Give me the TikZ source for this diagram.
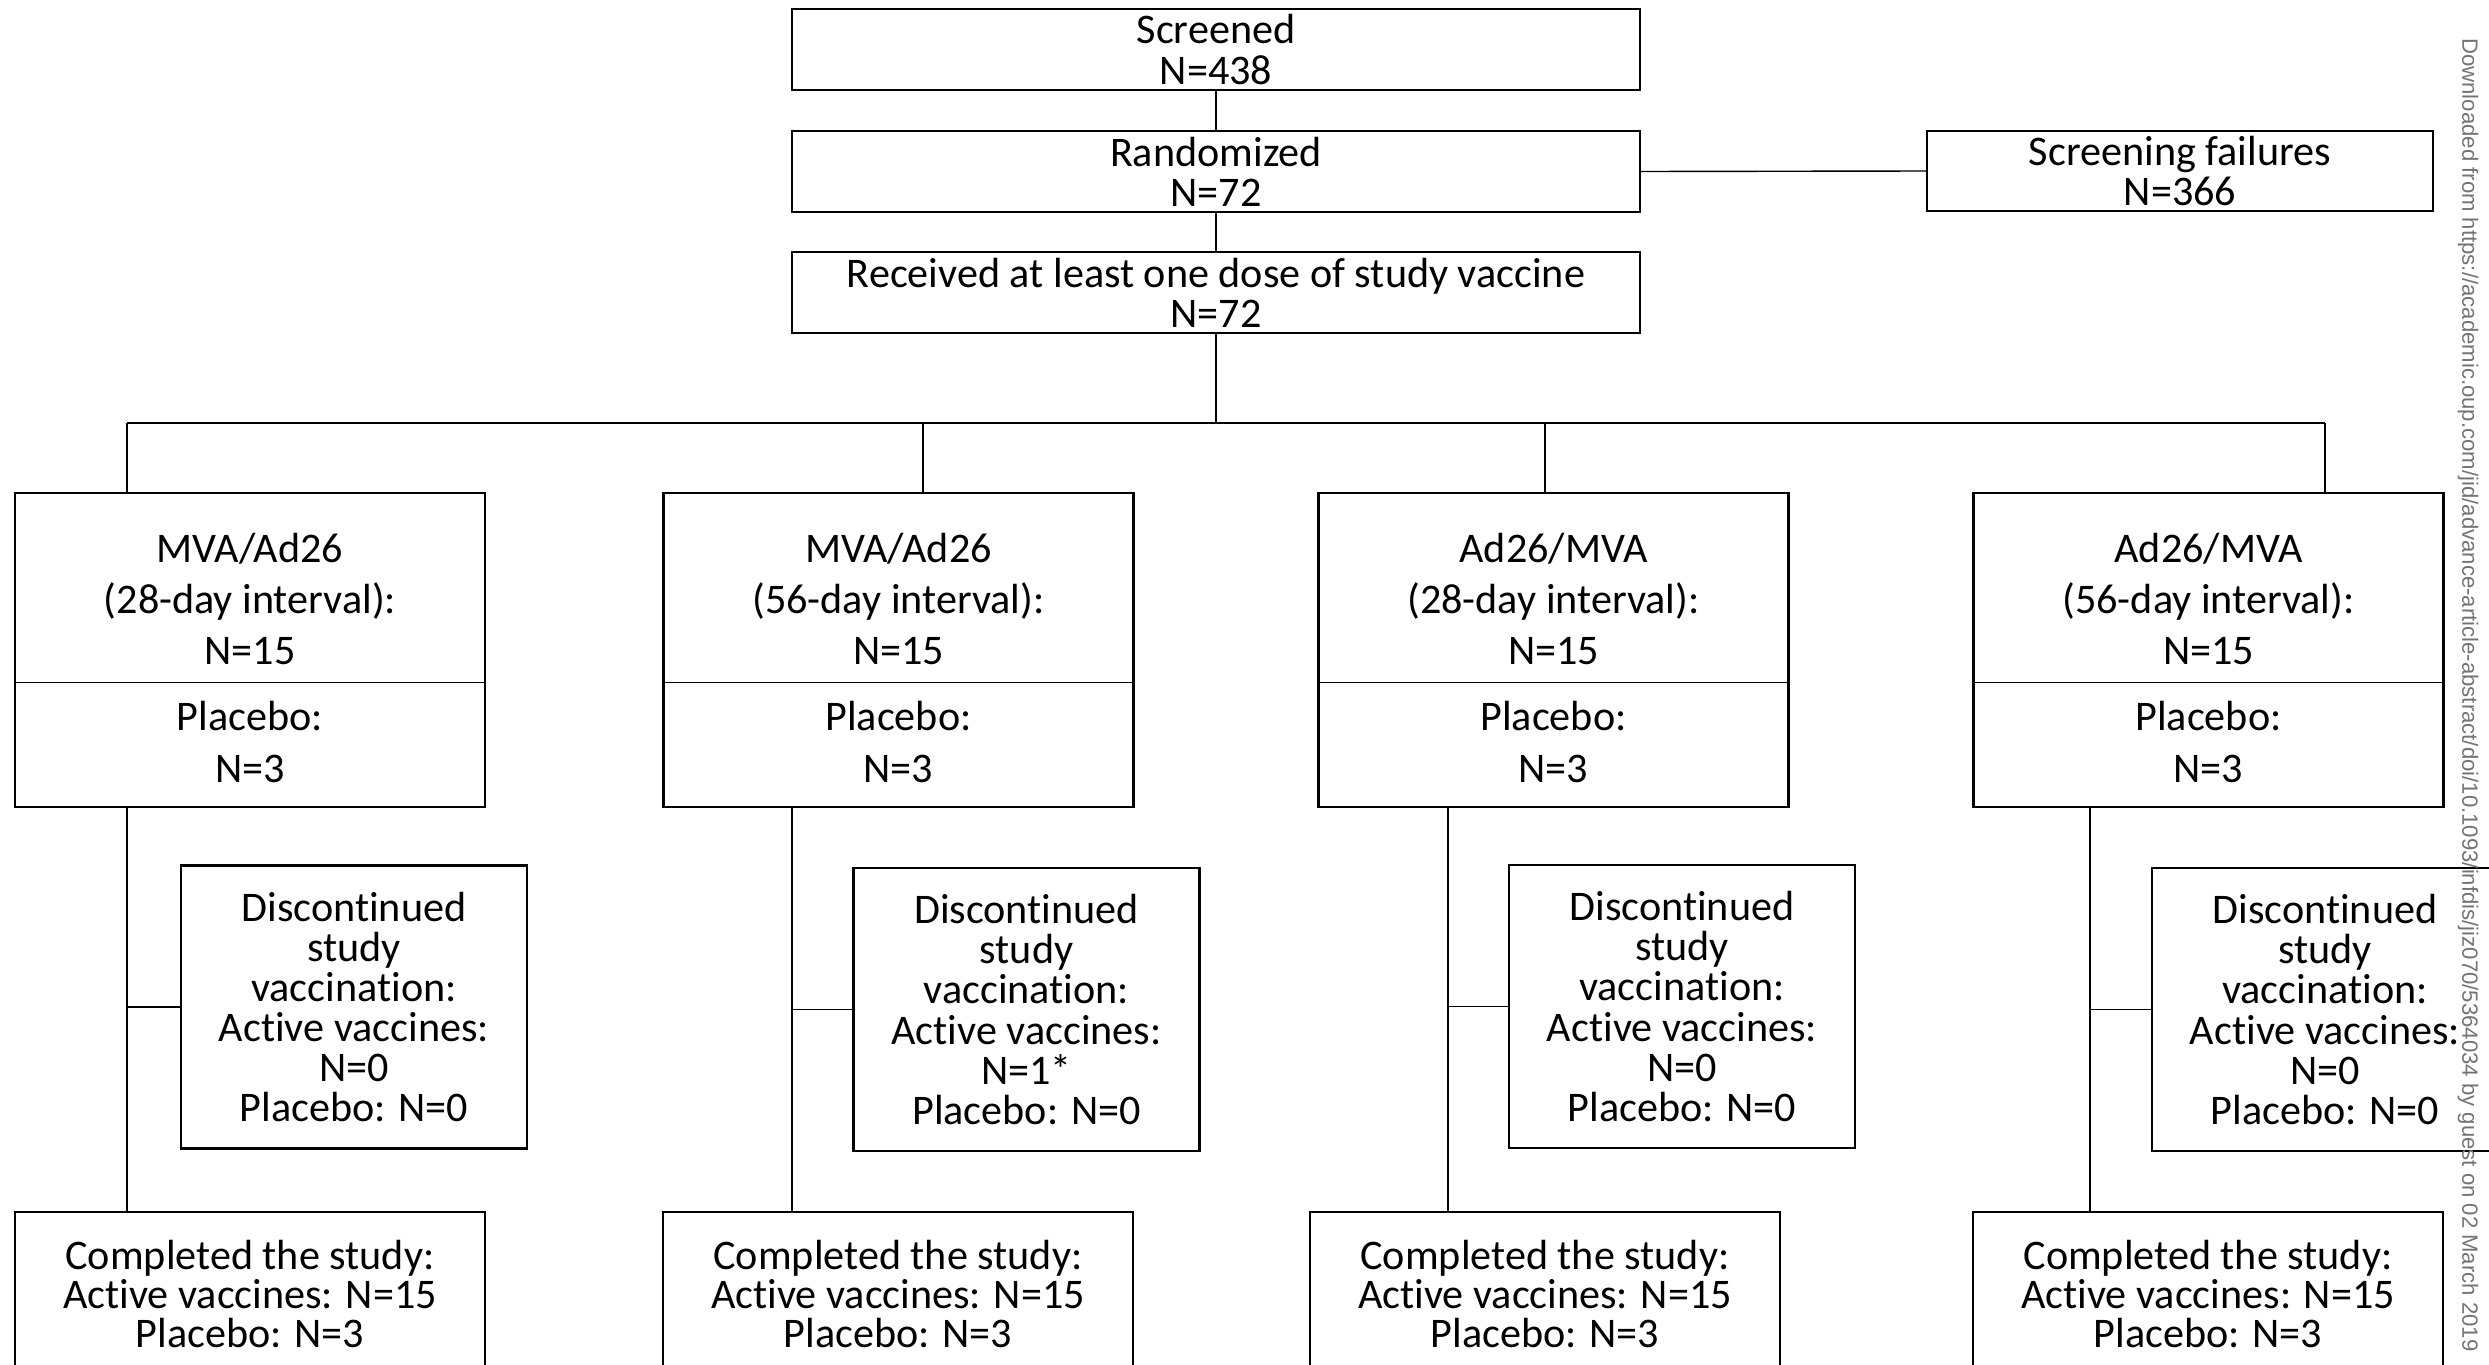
\documentclass[tikz,border=0pt]{standalone}
\usepackage{fontspec}
\setmainfont{Carlito}[Ligatures=NoCommon]
\newfontfamily\wmfont{Liberation Sans}
\usetikzlibrary{calc}
\tikzset{
	box/.style={draw, line width=0.7pt, inner sep=0pt, align=center},
	topbox/.style={box, minimum width=84.8mm, minimum height=8.1mm, font=\fontsize{12}{11.4}\selectfont},
	armbox/.style={draw, line width=0.7pt, minimum width=47mm, minimum height=31.4mm},
	armtext/.style={inner sep=0pt, align=center, font=\fontsize{12}{14.6}\selectfont},
	discbox/.style={box, minimum width=34.6mm, minimum height=28.3mm, font=\fontsize{12}{11.4}\selectfont},
	complbox/.style={box, minimum width=47mm, minimum height=16.4mm, font=\fontsize{12}{11.2}\selectfont},
	link/.style={line width=0.4pt},
	wm/.style={inner sep=0pt, rotate=-90, text=black!55, font=\wmfont\fontsize{6.3}{7}\selectfont}
}
\begin{document}
\begin{tikzpicture}[x=0.1mm, y=-0.1mm]
		\path[use as bounding box] (0,0) rectangle (2489,1364);
		\clip (0,0) rectangle (2489,1364);
		%screening and randomization
		\node[topbox] (screened) at (1216,49.5) {Screened\\N=438};
		\node[topbox] (randomized) at (1216,171.5) {Randomized\\N=72};
		\node[topbox] (received) at (1216,292.5) {Received at least one dose of study vaccine\\N=72};
		\node[box, minimum width=50.6mm, minimum height=8.0mm, font=\fontsize{12}{11.4}\selectfont] (failures) at (2180,171) {Screening failures\\N=366};
		\draw[link] (screened.south) -- (randomized.north);
		\draw[link] (randomized.south) -- (received.north);
		\draw[link] (randomized.east) -- (failures.west);
		%arms
		\node[armbox] (arm1) at (250,650) {};
		\node[armbox] (arm2) at (898.5,650) {};
		\node[armbox] (arm3) at (1553.5,650) {};
		\node[armbox] (arm4) at (2208.5,650) {};
		\draw[link] ($(arm1.north west)!0.602!(arm1.south west)$) -- ($(arm1.north east)!0.602!(arm1.south east)$);
		\draw[link] ($(arm2.north west)!0.602!(arm2.south west)$) -- ($(arm2.north east)!0.602!(arm2.south east)$);
		\draw[link] ($(arm3.north west)!0.602!(arm3.south west)$) -- ($(arm3.north east)!0.602!(arm3.south east)$);
		\draw[link] ($(arm4.north west)!0.602!(arm4.south west)$) -- ($(arm4.north east)!0.602!(arm4.south east)$);
		\node[armtext] (arm1top) at (250,599) {MVA/Ad26\\(28-day interval):\\N=15};
		\node[armtext] (arm1bot) at (250,742) {Placebo:\\N=3};
		\node[armtext] (arm2top) at (898.5,599) {MVA/Ad26\\(56-day interval):\\N=15};
		\node[armtext] (arm2bot) at (898.5,742) {Placebo:\\N=3};
		\node[armtext] (arm3top) at (1553.5,599) {Ad26/MVA\\(28-day interval):\\N=15};
		\node[armtext] (arm3bot) at (1553.5,742) {Placebo:\\N=3};
		\node[armtext] (arm4top) at (2208.5,599) {Ad26/MVA\\(56-day interval):\\N=15};
		\node[armtext] (arm4bot) at (2208.5,742) {Placebo:\\N=3};
		%bus from received to the arms
		\coordinate (bus1) at (127,423);
		\coordinate (bus2) at (923,423);
		\coordinate (bus3) at (1545,423);
		\coordinate (bus4) at (2325,423);
		\draw[link] (received.south) -- (received.south |- bus1);
		\draw[link] (bus1) -- (bus4);
		\draw[link] (bus1) -- (bus1 |- arm1.north);
		\draw[link] (bus2) -- (bus2 |- arm2.north);
		\draw[link] (bus3) -- (bus3 |- arm3.north);
		\draw[link] (bus4) -- (bus4 |- arm4.north);
		%discontinued
		\node[discbox] (disc1) at (354,1007) {Discontinued\\study\\vaccination:\\Active vaccines:\\N=0\\Placebo: N=0};
		\node[discbox] (disc2) at (1026.5,1009.5) {Discontinued\\study\\vaccination:\\Active vaccines:\\N=1*\\Placebo: N=0};
		\node[discbox] (disc3) at (1682,1006.5) {Discontinued\\study\\vaccination:\\Active vaccines:\\N=0\\Placebo: N=0};
		\node[discbox] (disc4) at (2325,1009.5) {Discontinued\\study\\vaccination:\\Active vaccines:\\N=0\\Placebo: N=0};
		%completed
		\node[complbox] (compl1) at (250,1294) {Completed the study:\\Active vaccines: N=15\\Placebo: N=3};
		\node[complbox] (compl2) at (898,1294) {Completed the study:\\Active vaccines: N=15\\Placebo: N=3};
		\node[complbox] (compl3) at (1545,1294) {Completed the study:\\Active vaccines: N=15\\Placebo: N=3};
		\node[complbox] (compl4) at (2208,1294) {Completed the study:\\Active vaccines: N=15\\Placebo: N=3};
		%trunks below the arms
		\coordinate (trunk1) at (127,807);
		\coordinate (trunk2) at (792,807);
		\coordinate (trunk3) at (1448,807);
		\coordinate (trunk4) at (2090,807);
		\draw[link] (trunk1) -- (trunk1 |- compl1.north);
		\draw[link] (trunk2) -- (trunk2 |- compl2.north);
		\draw[link] (trunk3) -- (trunk3 |- compl3.north);
		\draw[link] (trunk4) -- (trunk4 |- compl4.north);
		\draw[link] (trunk1 |- disc1.west) -- (disc1.west);
		\draw[link] (trunk2 |- disc2.west) -- (disc2.west);
		\draw[link] (trunk3 |- disc3.west) -- (disc3.west);
		\draw[link] (trunk4 |- disc4.west) -- (disc4.west);
		%download note
		\node[wm] (note) at (2468,695) {Downloaded from https://academic.oup.com/jid/advance-article-abstract/doi/10.1093/infdis/jiz070/5364034 by guest on 02 March 2019};
	\end{tikzpicture}
\end{document}
